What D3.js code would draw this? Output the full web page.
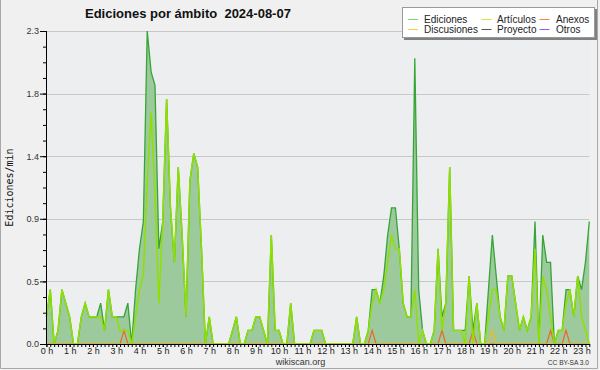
<!DOCTYPE html>
<html><head><meta charset="utf-8">
<script src="https://cdn.jsdelivr.net/npm/d3@7"></script>
<style>
html,body{margin:0;padding:0;background:#f0f0f0;}
svg{display:block;}
</style></head>
<body>
<script>
// ---- data (edits per minute, 10-minute buckets starting 00:00) ----
const ediciones = [0.2,0.4,0,0.1,0.4,0.3,0.2,0,0,0.2,0.3,0.2,0.2,0.2,0.3,0.1,0.4,0.2,0.2,0.2,0.2,0.3,0,0.4,0.7,0.9,2.3,2.0,1.9,0.7,
0.9,1.8,1.0,0.6,1.3,0.8,0.2,1.2,1.4,1.3,0.7,0,0.2,0,0,0,0,0,0.1,0.2,0,0,0.1,0.1,0.2,0.2,0.1,0,0.8,0.1,
0.1,0,0,0.3,0,0,0,0,0,0.1,0.1,0.1,0,0,0,0,0,0,0,0,0.2,0,0,0.1,0.4,0.4,0.3,0.5,0.8,1.0,
1.0,0.7,0.3,0.2,0.2,2.1,0.4,0.1,0,0,0.1,0.7,0.2,0.3,1.3,0.1,0.1,0.1,0.1,0.5,0.1,0.3,0,0,0.4,0.8,0.5,0.2,0.1,0.5,
0.5,0.3,0.1,0.2,0.1,0.2,0.9,0,0.8,0.6,0.6,0,0.1,0.1,0.4,0.4,0.2,0.5,0.4,0.6,0.9];
const articulos = [0.2,0.4,0,0.1,0.4,0.3,0.2,0,0,0.2,0.3,0.2,0.2,0.2,0.2,0.1,0.4,0.2,0.2,0.1,0.1,0.1,0,0.2,0.4,0.5,1.2,1.7,1.1,0.3,
0.9,1.8,1.0,0.6,1.3,0.8,0.2,1.2,1.4,1.3,0.7,0,0.2,0,0,0,0,0,0.1,0.2,0,0,0.1,0.1,0.2,0.2,0.1,0,0.8,0.1,
0.1,0,0,0.3,0,0,0,0,0,0.1,0.1,0.1,0,0,0,0,0,0,0,0,0.2,0,0,0.1,0.3,0.4,0.3,0.4,0.6,0.8,
0.7,0.7,0.3,0.2,0.2,0.4,0,0.1,0,0,0.1,0.7,0.1,0.3,1.3,0.1,0.1,0.1,0,0.5,0,0.3,0,0,0.2,0.4,0.4,0.2,0.1,0.5,
0.5,0.3,0.1,0.2,0.1,0.2,0.7,0,0.5,0.4,0.2,0,0.1,0.1,0.3,0.4,0.2,0.5,0.2,0.1,0];
// sparse series: bucket index -> value
const anexosIdx = [20,84,102,110,130,134];
const anexosVal = [0.1,0.1,0.1,0.1,0.1,0.1];
const discusionesIdx = [115];
const discusionesVal = [0.1];
const hourLabels = ["0 h","1 h","2 h","3 h","4 h","5 h","6 h","7 h","8 h","9 h","10 h","11 h","12 h","13 h","14 h","15 h","16 h","17 h","18 h","19 h","20 h","21 h","22 h","23 h"];
const yTickLabels = ["0.0","0.5","0.9","1.4","1.8","2.3"];
const legendNames = ["Ediciones","Artículos","Anexos","Discusiones","Proyecto","Otros"];
const legendColors = ["#7fd07f","#c8ee3c","#ff8040","#ffcc33","#555555","#9955ff"];

const n = ediciones.length;
function sparse(idx, val){ const a = new Array(n).fill(0); idx.forEach((k,j)=>a[k]=val[j]); return a; }
const anexos = sparse(anexosIdx, anexosVal);
const discusiones = sparse(discusionesIdx, discusionesVal);

const W=600,H=370;
const svg = d3.select("body").append("svg").attr("width",W).attr("height",H);
svg.append("rect").attr("x",0).attr("y",0).attr("width",W).attr("height",H).attr("fill","#f0f0f0");
// outer frame
svg.append("path").attr("d","M0.5,0 V368.5 H597.5 V0").attr("fill","none").attr("stroke","#a8a8a8");

const x = d3.scaleLinear().domain([0,n-1]).range([46.4,589.3]);
const ymax = d3.max(ediciones);
const y = d3.scaleLinear().domain([0,ymax]).range([344,31]);

// plot background
svg.append("rect").attr("x",46).attr("y",31).attr("width",589.3-46).attr("height",313).attr("fill","#edeef0");

const yMajor = d3.range(6).map(k=>ymax*k/5);
const yMinor = d3.range(21).map(k=>ymax*k/20);
// gridlines
svg.append("g").selectAll("line").data(yMajor.slice(1)).join("line")
  .attr("x1",46).attr("x2",589.3).attr("y1",d=>Math.round(y(d))+0.5).attr("y2",d=>Math.round(y(d))+0.5)
  .attr("stroke","#c8c8c8").attr("stroke-width",1);

// area + lines
const area = d3.area().x((d,i)=>x(i)).y0(y(0)).y1(d=>y(d));
const line = d3.line().x((d,i)=>x(i)).y(d=>y(d));
svg.append("path").datum(ediciones).attr("d",area).attr("fill","#9dca9d");
svg.append("path").datum(ediciones).attr("d",line).attr("fill","none").attr("stroke","#36a536").attr("stroke-width",1.3);
svg.append("path").datum(anexos).attr("d",line).attr("fill","none").attr("stroke","#ee6622").attr("stroke-width",1.2);
svg.append("path").datum(discusiones).attr("d",line).attr("fill","none").attr("stroke","#f0bb22").attr("stroke-width",1.2);
svg.append("path").datum(articulos).attr("d",line).attr("fill","none").attr("stroke","#8fe000").attr("stroke-width",1.5);

// axes
const fontSans = "'Liberation Sans', Arial, sans-serif";
const yAxisMinor = d3.axisLeft(y).tickValues(yMinor).tickSize(3).tickFormat("");
const yAxisMajor = d3.axisLeft(y).tickValues(yMajor).tickSize(6).tickPadding(1).tickFormat((d,i)=>yTickLabels[i]);
const gy1 = svg.append("g").attr("transform","translate(46,0)").call(yAxisMinor);
const gy2 = svg.append("g").attr("transform","translate(46,0)").call(yAxisMajor);
[gy1,gy2].forEach(g=>{g.select(".domain").remove(); g.selectAll("line").attr("stroke","#000");});
gy2.selectAll("text").attr("font-family",fontSans).attr("font-size","9px").attr("fill","#333");

const xAxisMinor = d3.axisBottom(x).tickValues(d3.range(0,n)).tickSize(3).tickFormat("");
const xAxisMajor = d3.axisBottom(x).tickValues(d3.range(0,n,6)).tickSize(3).tickPadding(1).tickFormat((d,i)=>hourLabels[i]);
const gx1 = svg.append("g").attr("transform","translate(0,344)").call(xAxisMinor);
const gx2 = svg.append("g").attr("transform","translate(0,344)").call(xAxisMajor);
[gx1,gx2].forEach(g=>{g.select(".domain").remove(); g.selectAll("line").attr("stroke","#000");});
gx2.selectAll("text").attr("font-family",fontSans).attr("font-size","9px").attr("fill","#222");

// axis lines
svg.append("line").attr("x1",46.5).attr("x2",46.5).attr("y1",31).attr("y2",344.5).attr("stroke","#000");
svg.append("line").attr("x1",46).attr("x2",590).attr("y1",344.5).attr("y2",344.5).attr("stroke","#000");

// title
svg.append("text").attr("x",85).attr("y",18).attr("font-family",fontSans).attr("font-weight","bold")
  .attr("font-size","13px").attr("fill","#111").attr("xml:space","preserve").style("white-space","pre")
  .text("Ediciones por ámbito  2024-08-07");

// y label
svg.append("text").attr("transform","translate(13,187.5) rotate(-90)").attr("text-anchor","middle")
  .attr("font-family","'DejaVu Sans Mono', monospace").attr("font-size","10px").attr("fill","#111").text("Ediciones/min");

// footer
svg.append("text").attr("x",300.5).attr("y",365).attr("text-anchor","middle").attr("font-family",fontSans)
  .attr("font-size","9px").attr("fill","#333").text("wikiscan.org");
svg.append("text").attr("x",589).attr("y",365).attr("text-anchor","end").attr("font-family",fontSans)
  .attr("font-size","6.6px").attr("fill","#333").text("CC BY-SA 3.0");

// legend
const lg = svg.append("g");
lg.append("rect").attr("x",404).attr("y",9).attr("width",193).attr("height",31).attr("fill","#808080");
lg.append("rect").attr("x",402.5).attr("y",7.5).attr("width",192).attr("height",30).attr("fill","#fff").attr("stroke","#999");
const colX = [408,481.5,539.5], textX=[424,497,556], rowY=[19,29];
legendNames.forEach((name,k)=>{
  const c = k%3, r = Math.floor(k/3);
  lg.append("line").attr("x1",colX[c]).attr("x2",colX[c]+10).attr("y1",rowY[r]+0.5).attr("y2",rowY[r]+0.5)
    .attr("stroke",legendColors[k]).attr("stroke-width",1);
  lg.append("text").attr("x",textX[c]).attr("y",rowY[r]+4).attr("font-family",fontSans).attr("font-size","10px")
    .attr("fill","#222").text(name);
});
</script>
</body></html>
